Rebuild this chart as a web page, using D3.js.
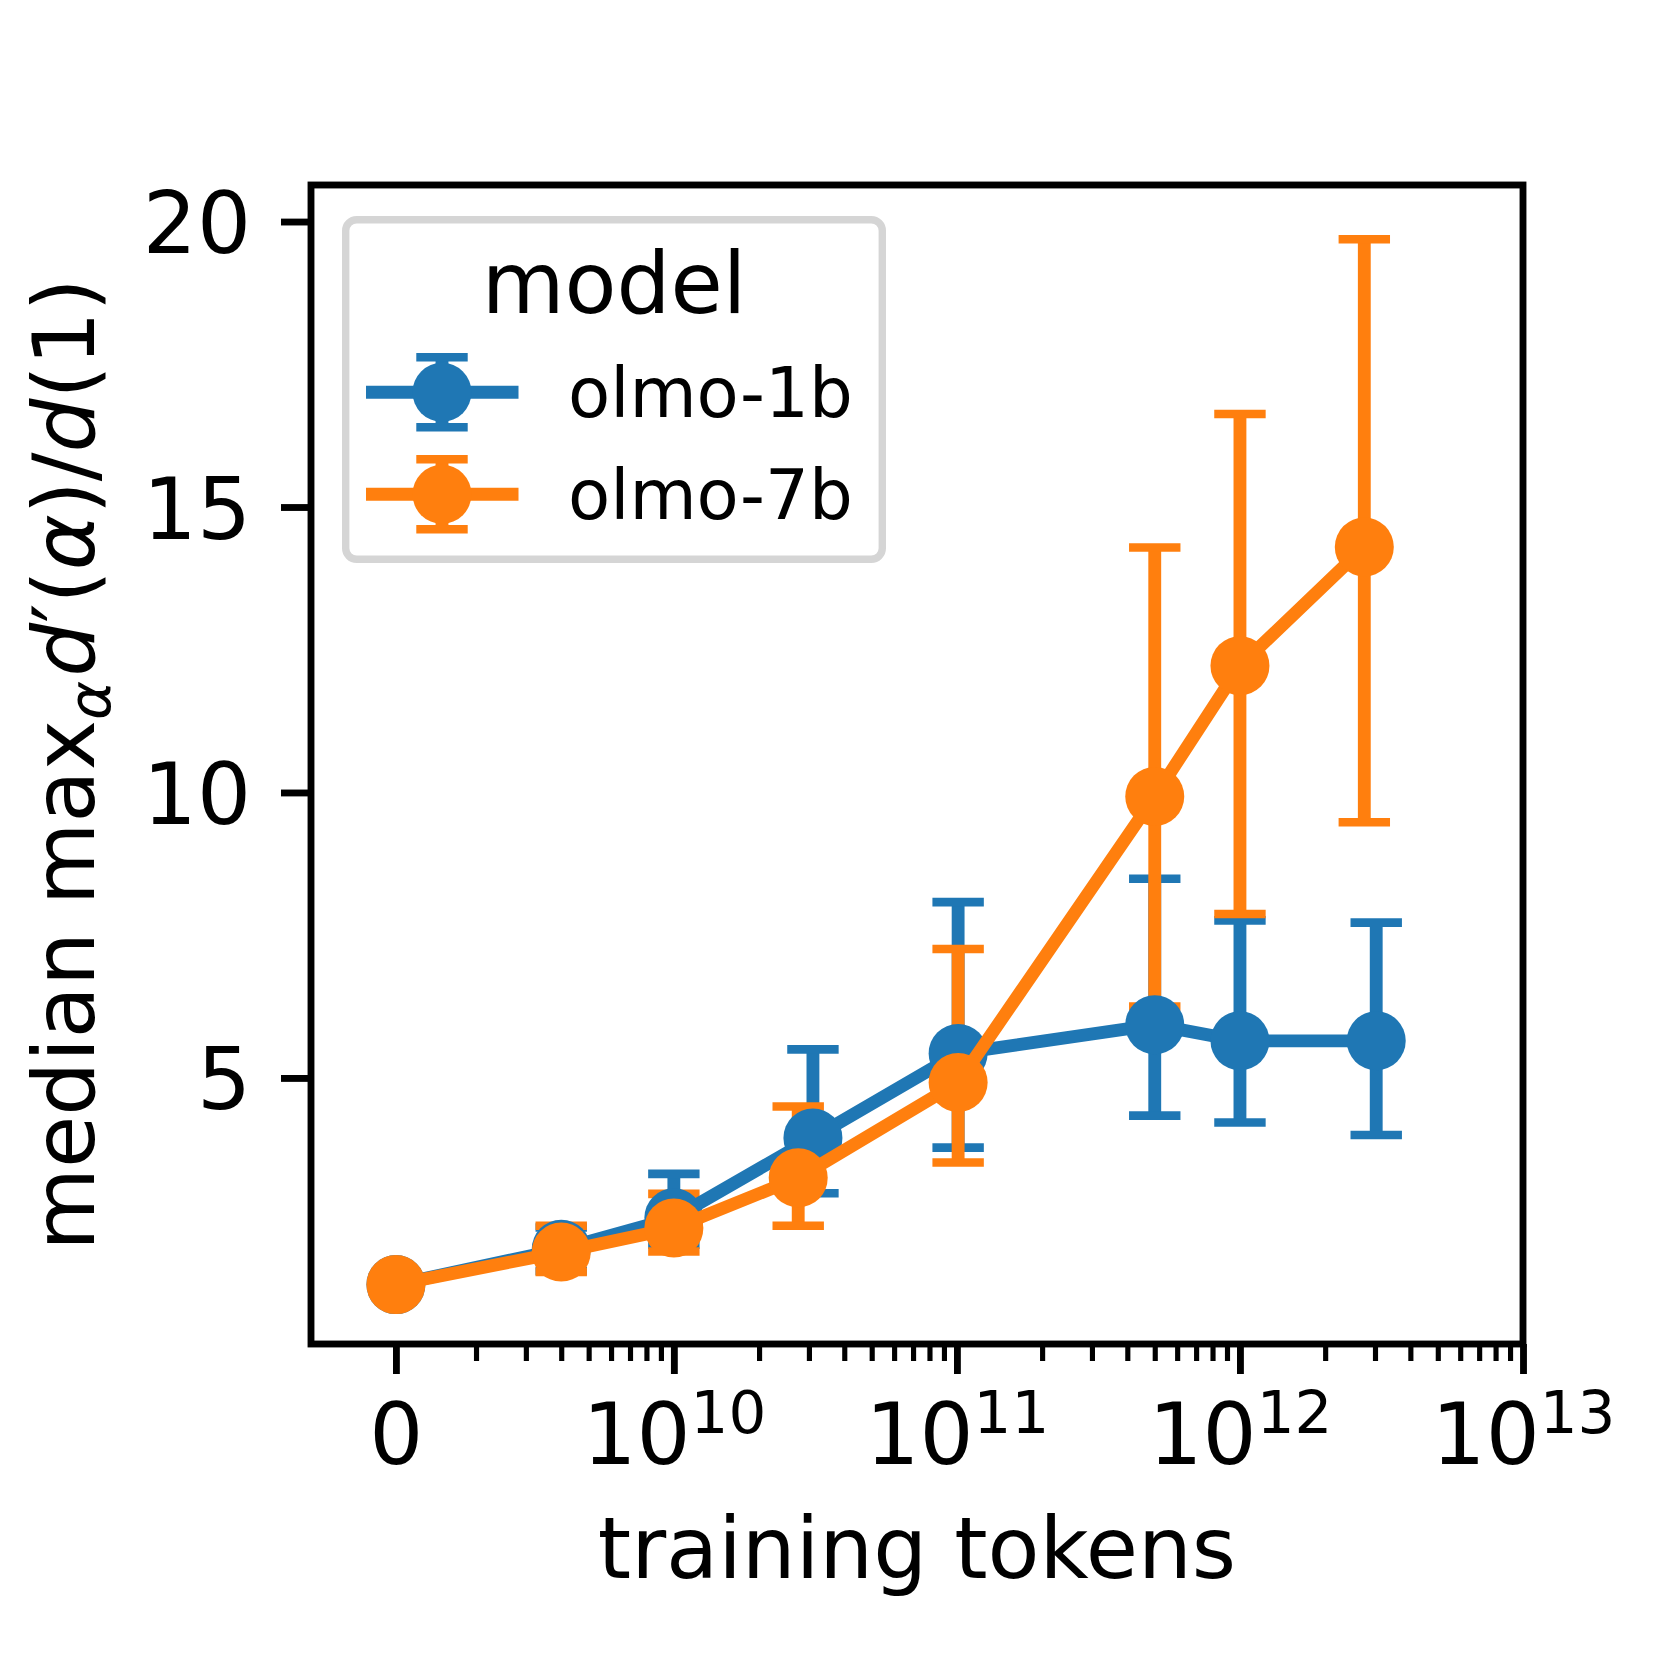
<!DOCTYPE html>
<html>
<head>
<meta charset="utf-8">
<script src="https://cdn.jsdelivr.net/npm/d3@7"></script>
<style>
  body { margin: 0; background: #fff; }
  text { font-family: "DejaVu Sans", sans-serif; fill: #000; }
</style>
</head>
<body>
<div id="chart"></div>
<script>
const w = 1670;
const h = 1654;
const plot = { left: 311, right: 1523, top: 185, bottom: 1344 };

// data
const models = ["olmo-1b", "olmo-7b"];
const colors = ["#1f77b4", "#ff7f0e"];

const tokens1b = [0, 4e9, 1e10, 3.1e10, 1.01e11, 5e11, 1e12, 3.03e12];
const median1b = [1.38, 2.0, 2.55, 3.95, 5.43, 5.93, 5.65, 5.65];
const low1b = [1.26, 1.62, 2.08, 2.98, 3.78, 4.34, 4.22, 4.0];
const high1b = [1.5, 2.38, 3.32, 5.5, 8.08, 8.49, 7.76, 7.72];

const tokens7b = [0, 4e9, 1e10, 2.75e10, 1.01e11, 5e11, 1e12, 2.75e12];
const median7b = [1.38, 1.95, 2.37, 3.25, 4.92, 9.93, 12.22, 14.3];
const low7b = [1.28, 1.6, 1.96, 2.41, 3.52, 6.25, 7.87, 9.48];
const high7b = [1.48, 2.41, 2.97, 4.5, 7.26, 14.29, 16.63, 19.69];

const xMajor = [0, 1e10, 1e11, 1e12, 1e13];
const xMajorExp = [null, 10, 11, 12, 13];
const yTicks = [5, 10, 15, 20];

// symlog transform (linear below linthresh, log above)
const linthresh = 2e9;
const linscale = 0.283;
const symT = v => v < linthresh ? v / linthresh * linscale : linscale + Math.log10(v / linthresh);

const xT = d3.scaleLinear()
  .domain([-0.30, symT(1e13)])
  .range([plot.left, plot.right]);
const x = v => xT(symT(v));

const y = d3.scaleLinear()
  .domain([0.34, 20.64])
  .range([plot.bottom, plot.top]);

const xMinor = [];
for (let e = 9; e <= 12; e++) {
  for (let k = 2; k <= 9; k++) {
    const v = k * Math.pow(10, e);
    if (v >= linthresh && v < 1e13) xMinor.push(v);
  }
}

const series = [
  { tokens: tokens1b, median: median1b, low: low1b, high: high1b },
  { tokens: tokens7b, median: median7b, low: low7b, high: high7b }
].map((s, i) => ({
  name: models[i],
  color: colors[i],
  points: s.tokens.map((t, j) => ({ t: t, m: s.median[j], lo: s.low[j], hi: s.high[j] }))
}));

const pt = 8.57;
const lw = 1.5 * pt;
const capHalf = 3 * pt;
const capW = 1.0 * pt;
const markerR = 29.5;

const svg = d3.select("#chart")
  .append("svg")
  .attr("width", w)
  .attr("height", h);

svg.append("rect").attr("width", w).attr("height", h).attr("fill", "#fff");

// error bars (drawn under every line)
series.forEach(s => {
  const g = svg.append("g");
  g.selectAll(".ebar")
    .data(s.points)
    .enter()
    .append("line")
    .attr("x1", d => x(d.t)).attr("x2", d => x(d.t))
    .attr("y1", d => y(d.lo)).attr("y2", d => y(d.hi))
    .attr("stroke", s.color)
    .attr("stroke-width", lw);
  ["lo", "hi"].forEach(k => {
    g.selectAll(".cap-" + k)
      .data(s.points)
      .enter()
      .append("line")
      .attr("x1", d => x(d.t) - capHalf).attr("x2", d => x(d.t) + capHalf)
      .attr("y1", d => y(d[k])).attr("y2", d => y(d[k]))
      .attr("stroke", s.color)
      .attr("stroke-width", capW);
  });
});

const line = d3.line().x(d => x(d.t)).y(d => y(d.m));

series.forEach(s => {
  svg.append("path")
    .datum(s.points)
    .attr("d", line)
    .attr("fill", "none")
    .attr("stroke", s.color)
    .attr("stroke-width", lw)
    .attr("stroke-linejoin", "round");
  svg.selectAll(".dot-" + s.name)
    .data(s.points)
    .enter()
    .append("circle")
    .attr("cx", d => x(d.t))
    .attr("cy", d => y(d.m))
    .attr("r", markerR)
    .attr("fill", s.color);
});

// axes
const tickW = 0.8 * pt;

const xAxis = svg.append("g")
  .attr("transform", "translate(0," + plot.bottom + ")")
  .call(d3.axisBottom(xT)
    .tickValues(xMajor.map(symT))
    .tickSize(30)
    .tickPadding(30)
    .tickFormat(""));
xAxis.select(".domain").remove();
xAxis.selectAll("line").attr("stroke-width", tickW);
xAxis.selectAll("text")
  .attr("font-size", 85)
  .attr("font-family", "DejaVu Sans")
  .each(function(d, i) {
    const t = d3.select(this);
    if (xMajorExp[i] === null) {
      t.text("0");
    } else {
      t.append("tspan").text("10");
      t.append("tspan").attr("font-size", 59.5).attr("dy", -31).text(xMajorExp[i]);
    }
  });

const xMinorAxis = svg.append("g")
  .attr("transform", "translate(0," + plot.bottom + ")")
  .call(d3.axisBottom(xT)
    .tickValues(xMinor.map(symT))
    .tickSize(17)
    .tickFormat(""));
xMinorAxis.select(".domain").remove();
xMinorAxis.selectAll("line").attr("stroke-width", 0.6 * pt);

const yAxis = svg.append("g")
  .attr("transform", "translate(" + plot.left + ",0)")
  .call(d3.axisLeft(y)
    .tickValues(yTicks)
    .tickSize(30)
    .tickPadding(30));
yAxis.select(".domain").remove();
yAxis.selectAll("line").attr("stroke-width", tickW);
yAxis.selectAll("text")
  .attr("font-size", 85)
  .attr("font-family", "DejaVu Sans")
  .attr("dy", "0.365em");

// spines
svg.append("rect")
  .attr("x", plot.left)
  .attr("y", plot.top)
  .attr("width", plot.right - plot.left)
  .attr("height", plot.bottom - plot.top)
  .attr("fill", "none")
  .attr("stroke", "#000")
  .attr("stroke-width", tickW);

// axis labels
svg.append("text")
  .attr("x", (plot.left + plot.right) / 2)
  .attr("y", 1578)
  .attr("text-anchor", "middle")
  .attr("font-size", 85)
  .text("training tokens");

const yl = svg.append("text")
  .attr("transform", "translate(94," + ((plot.top + plot.bottom) / 2) + ") rotate(-90)")
  .attr("text-anchor", "middle")
  .attr("font-size", 85);
yl.append("tspan").text("median max");
yl.append("tspan").attr("font-style", "italic").attr("font-size", 59.5).attr("dy", 16).text("α");
yl.append("tspan").attr("font-style", "italic").attr("dy", -16).attr("dx", 4).text("d");
yl.append("tspan").text("′(");
yl.append("tspan").attr("font-style", "italic").text("α");
yl.append("tspan").text(")/");
yl.append("tspan").attr("font-style", "italic").text("d");
yl.append("tspan").text("(1)");

// legend
const leg = svg.append("g");
leg.append("rect")
  .attr("x", 345.7)
  .attr("y", 219.7)
  .attr("width", 536.6)
  .attr("height", 339.6)
  .attr("rx", 11)
  .attr("fill", "#fff")
  .attr("fill-opacity", 0.8)
  .attr("stroke", "#d5d5d5")
  .attr("stroke-width", 7.4);

leg.append("text")
  .attr("x", 614)
  .attr("y", 313.3)
  .attr("text-anchor", "middle")
  .attr("font-size", 85)
  .text("model");

const legendRows = [392.3, 494.3];
series.forEach((s, i) => {
  const cy = legendRows[i];
  const g = leg.append("g");
  g.append("line").attr("x1", 442).attr("x2", 442)
    .attr("y1", cy - 35).attr("y2", cy + 35)
    .attr("stroke", s.color).attr("stroke-width", lw);
  [-35, 35].forEach(o => {
    g.append("line").attr("x1", 442 - capHalf).attr("x2", 442 + capHalf)
      .attr("y1", cy + o).attr("y2", cy + o)
      .attr("stroke", s.color).attr("stroke-width", capW);
  });
  g.append("line").attr("x1", 366).attr("x2", 518.5)
    .attr("y1", cy).attr("y2", cy)
    .attr("stroke", s.color).attr("stroke-width", lw);
  g.append("circle").attr("cx", 442).attr("cy", cy).attr("r", markerR).attr("fill", s.color);
  g.append("text")
    .attr("x", 568)
    .attr("y", cy + 25)
    .attr("font-size", 69)
    .text(s.name);
});
</script>
</body>
</html>
